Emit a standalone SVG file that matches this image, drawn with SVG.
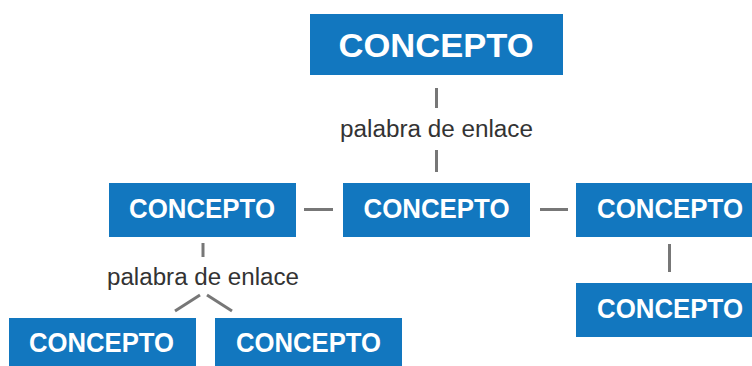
<svg xmlns="http://www.w3.org/2000/svg" width="752" height="366" viewBox="0 0 752 366">
<style>
.box{fill:#1277BF}
.t{font-family:"Liberation Sans",Arial,sans-serif;font-weight:bold;fill:#fff;text-anchor:middle}
.lbl{font-family:"Liberation Sans",Arial,sans-serif;font-size:23px;fill:#333;text-anchor:middle}
.ln{stroke:#777;stroke-width:3;fill:none}
</style>
<rect width="752" height="366" fill="#fff"/>
<g id="connectors">
<line class="ln" x1="436.5" y1="88" x2="436.5" y2="108"/>
<line class="ln" x1="436.5" y1="150" x2="436.5" y2="172"/>
<line class="ln" x1="304" y1="209.5" x2="333" y2="209.5"/>
<line class="ln" x1="540" y1="209.5" x2="568" y2="209.5"/>
<line class="ln" x1="669.5" y1="244" x2="669.5" y2="272"/>
<line class="ln" x1="203" y1="243" x2="203" y2="257"/>
<line class="ln" x1="175" y1="311" x2="200" y2="295"/>
<line class="ln" x1="207" y1="295" x2="232" y2="311"/>
</g>
<g id="label1"><text class="lbl" x="436.5" y="137" textLength="193" lengthAdjust="spacingAndGlyphs">palabra de enlace</text></g>
<g id="label2"><text class="lbl" x="203" y="285" textLength="192" lengthAdjust="spacingAndGlyphs">palabra de enlace</text></g>
<g id="n1"><rect class="box" x="310" y="14" width="253" height="61"/><text class="t" x="436" y="57" font-size="34" textLength="195" lengthAdjust="spacingAndGlyphs">CONCEPTO</text></g>
<g id="n2"><rect class="box" x="109" y="183" width="187" height="54"/><text class="t" x="202" y="218" font-size="27" textLength="146" lengthAdjust="spacingAndGlyphs">CONCEPTO</text></g>
<g id="n3"><rect class="box" x="343" y="183" width="187" height="54"/><text class="t" x="436.5" y="218" font-size="27" textLength="146" lengthAdjust="spacingAndGlyphs">CONCEPTO</text></g>
<g id="n4"><rect class="box" x="576" y="183" width="187" height="54"/><text class="t" x="670" y="218" font-size="27" textLength="146" lengthAdjust="spacingAndGlyphs">CONCEPTO</text></g>
<g id="n5"><rect class="box" x="576" y="283" width="187" height="54"/><text class="t" x="670" y="318" font-size="27" textLength="146" lengthAdjust="spacingAndGlyphs">CONCEPTO</text></g>
<g id="n6"><rect class="box" x="9" y="318" width="187" height="54"/><text class="t" x="101.5" y="352" font-size="27" textLength="145" lengthAdjust="spacingAndGlyphs">CONCEPTO</text></g>
<g id="n7"><rect class="box" x="215" y="318" width="187" height="54"/><text class="t" x="308.5" y="352" font-size="27" textLength="145" lengthAdjust="spacingAndGlyphs">CONCEPTO</text></g>
</svg>
